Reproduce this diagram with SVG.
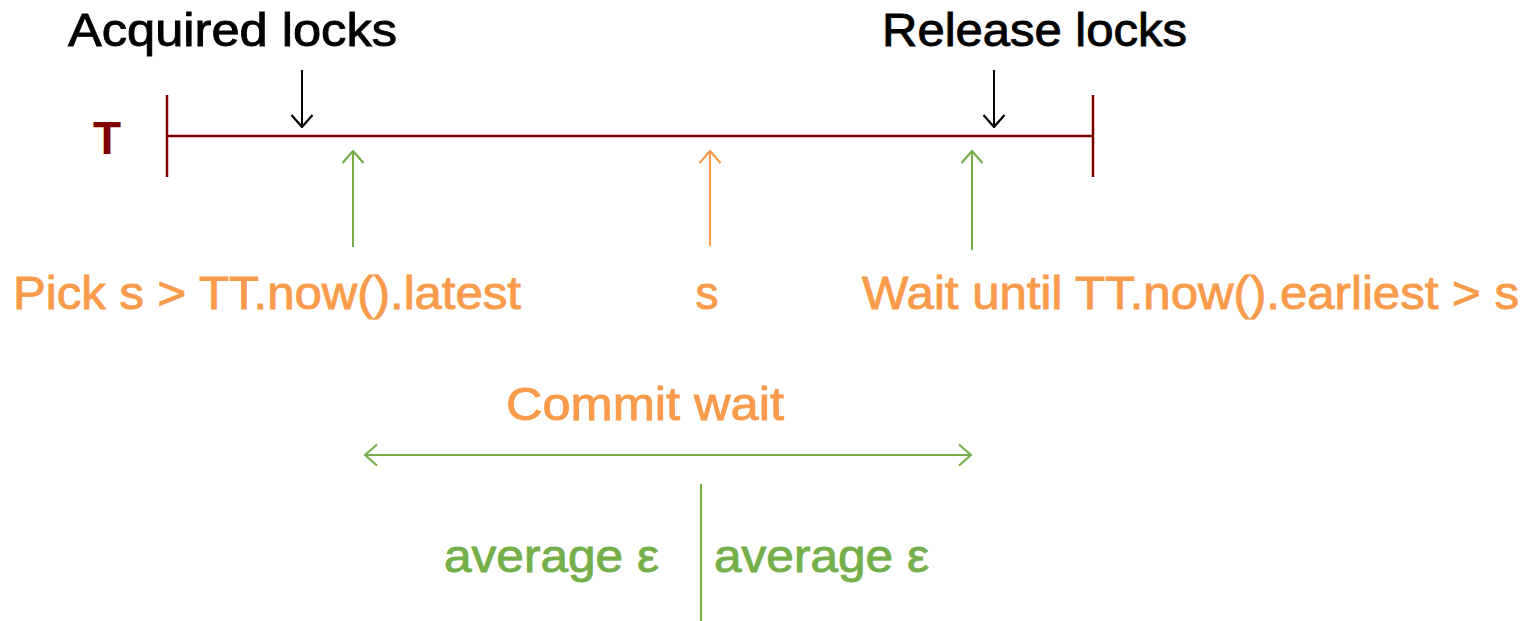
<svg xmlns="http://www.w3.org/2000/svg" width="1536" height="621" viewBox="0 0 1536 621">
<style>
text{font-family:"Liberation Sans",Arial,sans-serif;font-size:46px;stroke-width:0.9px}
.blk{fill:#000;stroke:#000}
.org{fill:#F99B4A;stroke:#F99B4A}
.grn{fill:#74AF4A;stroke:#74AF4A}
.red{fill:#800000;font-weight:bold;stroke:none}
.tl{stroke:#800000;stroke-width:2.5;fill:none}
.ab{stroke:#000;stroke-width:2;fill:none}
.ao{stroke:#F99B4A;stroke-width:2;fill:none}
.ag{stroke:#74AF4A;stroke-width:2;fill:none}
</style>
<defs>
<marker id="mb" markerUnits="userSpaceOnUse" markerWidth="14" markerHeight="24" viewBox="0 0 14 24" refX="13" refY="12" orient="auto"><path d="M1,1.5 L13,12 L1,22.5" fill="none" stroke="#000" stroke-width="2.2"/></marker>
<marker id="mo" markerUnits="userSpaceOnUse" markerWidth="14" markerHeight="24" viewBox="0 0 14 24" refX="13" refY="12" orient="auto"><path d="M1,1.5 L13,12 L1,22.5" fill="none" stroke="#F99B4A" stroke-width="2.2"/></marker>
<marker id="mg" markerUnits="userSpaceOnUse" markerWidth="14" markerHeight="24" viewBox="0 0 14 24" refX="13" refY="12" orient="auto-start-reverse"><path d="M1,1.5 L13,12 L1,22.5" fill="none" stroke="#74AF4A" stroke-width="2.2"/></marker>
</defs>
<g id="timeline">
<line class="tl" x1="166" y1="136" x2="1093" y2="136"/>
<line class="tl" x1="167" y1="95" x2="167" y2="177"/>
<line class="tl" x1="1093" y1="95" x2="1093" y2="177"/>
<text class="red" x="107" y="154" text-anchor="middle" font-size="47">T</text>
</g>
<g id="acquired"><text class="blk" x="68" y="46" textLength="329" lengthAdjust="spacingAndGlyphs">Acquired locks</text></g>
<g id="release"><text class="blk" x="882" y="46" textLength="305" lengthAdjust="spacingAndGlyphs">Release locks</text></g>
<g id="pick"><text class="org" x="13" y="309" textLength="508" lengthAdjust="spacingAndGlyphs">Pick s &gt; TT.now().latest</text></g>
<g id="s"><text class="org" x="707" y="309" text-anchor="middle">s</text></g>
<g id="wait"><text class="org" x="862" y="309" textLength="657" lengthAdjust="spacingAndGlyphs">Wait until TT.now().earliest &gt; s</text></g>
<g id="commit"><text class="org" x="506" y="420" textLength="278" lengthAdjust="spacingAndGlyphs">Commit wait</text></g>
<g id="avg1"><text class="grn" x="444" y="572" textLength="215" lengthAdjust="spacingAndGlyphs">average ε</text></g>
<g id="avg2"><text class="grn" x="714" y="572" textLength="215" lengthAdjust="spacingAndGlyphs">average ε</text></g>
<g id="connectors">
<line class="ab" x1="302" y1="70" x2="302" y2="127" marker-end="url(#mb)"/>
<line class="ab" x1="994" y1="70" x2="994" y2="127" marker-end="url(#mb)"/>
<line class="ag" x1="353" y1="247" x2="353" y2="151" marker-end="url(#mg)"/>
<line class="ao" x1="710" y1="246" x2="710" y2="151" marker-end="url(#mo)"/>
<line class="ag" x1="972" y1="250" x2="972" y2="151" marker-end="url(#mg)"/>
<line class="ag" x1="365" y1="455" x2="971" y2="455" marker-start="url(#mg)" marker-end="url(#mg)"/>
<line class="ag" x1="701" y1="484" x2="701" y2="621"/>
</g>
</svg>
